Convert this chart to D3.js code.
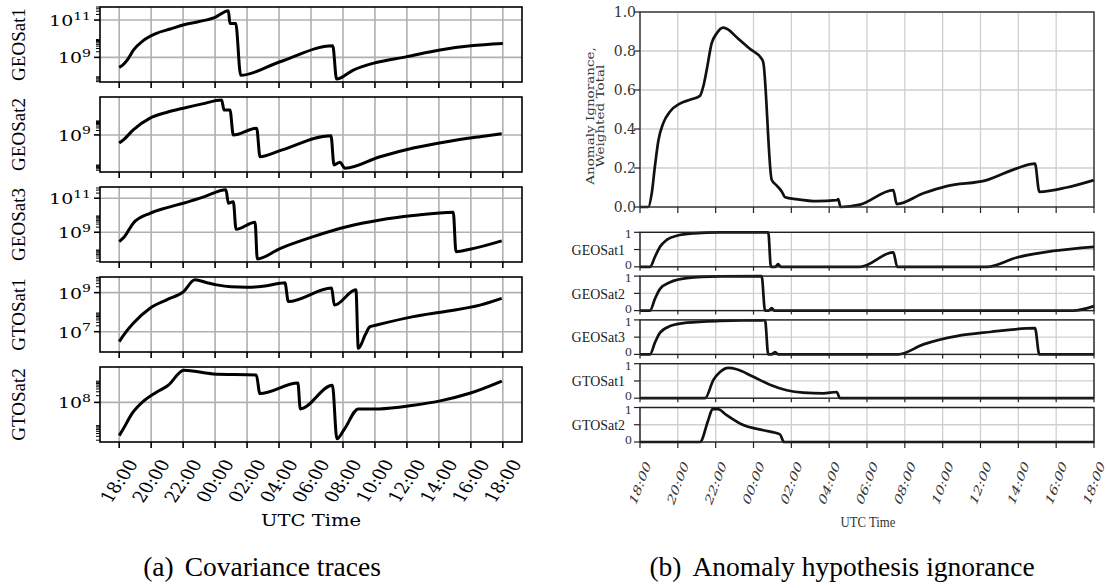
<!DOCTYPE html>
<html><head><meta charset="utf-8">
<script src="https://cdn.jsdelivr.net/npm/d3@7"></script>
<style>body{margin:0;background:#fff}svg{display:block}</style>
</head><body>
<svg id="c" width="1107" height="588"></svg>
<script>
// ---------- DATA ----------
const timeLabels = ["18:00","20:00","22:00","00:00","02:00","04:00","06:00","08:00","10:00","12:00","14:00","16:00","18:00"];
const satNames = ["GEOSat1","GEOSat2","GEOSat3","GTOSat1","GTOSat2"];

// (a) covariance traces: hours after 18:00 UTC, covariance trace
const geo1CovHours = [0,0.2,0.5,0.9,1.5,2.3,3.2,4,5,6,6.83,6.93,7.29,7.6,10.06,13.36,13.6,14.65,15.88,18,20.07,22,24];
const geo1Cov = [2.9e8,3.7e8,7.1e8,2.5e9,7.9e9,1.9e10,3.3e10,5.4e10,8.3e10,1.4e11,3.2e11,6.6e10,6.6e10,1.1e8,5.8e8,4.2e9,6.9e7,2.1e8,4.8e8,1.1e9,2.5e9,4.2e9,5.6e9];
const geo2CovHours = [0,0.3,0.88,1.93,3,4.01,5.2,6.41,6.56,6.93,7.14,8.6,8.81,10.06,13.25,13.44,13.81,14.13,16.32,18.4,20.49,22.57,23.93];
const geo2Cov = [2.8e8,5.0e8,2.2e9,1.4e10,3.5e10,6.6e10,1.3e11,2.4e11,5.0e10,5.0e10,1.0e9,2.9e9,3.3e7,8.5e7,8.9e8,9.1e6,1.4e7,5.4e6,3.3e7,1.3e8,3.5e8,7.6e8,1.2e9];
const geo3CovHours = [0,0.3,0.88,1.93,3,4.01,5.3,6.68,6.83,7.14,7.31,8.5,8.64,10.06,12.14,14.23,16.32,18.4,20.9,21.07,21.95,23.93];
const geo3Cov = [2.8e8,5.0e8,3.4e9,1.3e10,2.8e10,5.1e10,1.2e11,3.1e11,5.1e10,6.3e10,1.5e9,3.9e9,2.7e7,1.1e8,5.5e8,2.1e9,5.2e9,9.5e9,1.5e10,7.2e7,1.0e8,3.1e8];
const gto1CovHours = [0,0.3,0.88,1.93,2.97,4.01,4.74,5.5,6.1,7,7.98,9,10.06,10.37,10.58,13.29,13.46,14.81,14.96,15.4,15.69,16.11,18.4,20.49,22.57,23.93];
const gto1Cov = [3.1e6,7.1e6,2.7e7,1.6e8,4.3e8,1.1e9,4.5e9,3.2e9,2.5e9,2.0e9,1.9e9,2.1e9,3.0e9,3.2e9,3.5e8,1.7e9,2.3e8,1.4e9,1.4e6,7.1e6,1.8e7,2.2e7,5.9e7,1.1e8,2.3e8,5.1e8];
const gto2CovHours = [0,0.26,0.8,1.56,2.3,3.07,4.04,5.88,8.58,8.8,11.18,11.33,13.34,13.62,14.1,14.96,16.26,18.42,20.15,21.88,23.94];
const gto2Cov = [3.2e6,6.5e6,3.1e7,1.2e8,2.8e8,5.9e8,2.8e9,1.9e9,1.7e9,2.5e8,7.4e8,5.1e7,5.9e8,2.3e6,6.5e6,5.1e7,5.1e7,7.4e7,1.2e8,2.5e8,9.1e8];

// log10 axis limits and tick decades of each covariance panel
const covLimitsLog = [[7.68,11.70],[6.48,11.58],[7.25,11.66],[5.96,9.80],[6.22,9.59]];
const covMajorDecades = [[9,11],[9],[9,11],[7,9],[8]];
const covMinorDecades = [[7,9,11],[6,9],[7,9,11],[5,7,9],[6,8]];

// (b) anomaly ignorance
const totalHours = [0,0.44,0.62,0.79,0.97,1.23,1.59,2.11,2.64,3.17,3.35,3.52,3.79,4.05,4.4,4.67,5.11,5.82,6.43,6.52,6.96,7.23,7.49,7.67,8.28,9.34,10.4,10.48,10.6,11.63,13.39,13.57,14.98,16.22,18.33,19.92,20.88,21.11,22.55,24];
const totalIgnorance = [0,0,0.07,0.21,0.34,0.43,0.49,0.53,0.55,0.57,0.62,0.70,0.84,0.89,0.92,0.91,0.87,0.81,0.76,0.74,0.14,0.11,0.08,0.05,0.04,0.03,0.035,0.04,0,0.012,0.087,0.015,0.07,0.107,0.138,0.198,0.222,0.078,0.10,0.138];
const totalTicks = ["0.0","0.2","0.4","0.6","0.8","1.0"];

const geo1IgnHours = [0,0.53,0.79,1.06,1.41,1.94,2.82,4.23,6.78,6.92,7.15,7.3,7.45,11.63,13.39,13.6,18.33,19.92,21.85,24];
const geo1Ign = [0,0,0.29,0.58,0.78,0.90,0.97,1.0,1.0,0,0,0.08,0,0,0.42,0,0,0.27,0.46,0.58];
const geo2IgnHours = [0,0.53,0.79,1.06,1.59,2.47,4.23,6.43,6.61,6.8,6.96,7.1,22.9,24];
const geo2Ign = [0,0,0.34,0.63,0.82,0.94,0.99,1.0,0,0,0.07,0,0,0.13];
const geo3IgnHours = [0,0.53,0.79,1.06,1.59,2.47,4.23,6.61,6.78,6.95,7.14,7.3,13.65,14.98,16.74,18.5,20.88,21.11,24];
const geo3Ign = [0,0,0.34,0.63,0.82,0.92,0.97,0.99,0,0,0.07,0,0,0.29,0.53,0.65,0.76,0,0];
const gto1IgnHours = [0,3.44,3.88,4.23,4.67,5.11,5.99,6.87,7.75,8.63,9.69,10.4,10.57,24];
const gto1Ign = [0,0,0.53,0.76,0.88,0.84,0.62,0.39,0.23,0.16,0.14,0.18,0,0];
const gto2IgnHours = [0,3.17,3.61,3.84,4.14,4.58,5.46,6.52,7.4,7.61,24];
const gto2Ign = [0,0,0.64,0.96,0.95,0.78,0.49,0.34,0.22,0,0];
const smallTicks = [0,0.5,1];
const smallTickLabels = ["0","1"];

// ---------- DRAW ----------
const svg = d3.select("#c");
const tickHours = timeLabels.map((d,i)=>i*2);
const covSeries = [[geo1CovHours,geo1Cov],[geo2CovHours,geo2Cov],[geo3CovHours,geo3Cov],[gto1CovHours,gto1Cov],[gto2CovHours,gto2Cov]];
const ignSeries = [[geo1IgnHours,geo1Ign],[geo2IgnHours,geo2Ign],[geo3IgnHours,geo3Ign],[gto1IgnHours,gto1Ign],[gto2IgnHours,gto2Ign]];

// ---- (a) left ----
const xL = d3.scaleLinear().domain([-1.2,25.2]).range([100,522]);
const lp = {top:7, h:75, step:90};
const leftG = svg.append("g");
covSeries.forEach(([hrs,vals],i)=>{
  const top = lp.top + i*lp.step, bot = top + lp.h;
  const y = d3.scaleLog().domain(covLimitsLog[i].map(v=>Math.pow(10,v))).range([bot,top]);
  const g = leftG.append("g");
  g.selectAll(".gx").data(tickHours).join("line")
    .attr("x1",d=>xL(d)).attr("x2",d=>xL(d)).attr("y1",top).attr("y2",bot)
    .attr("stroke","#b0b0b0").attr("stroke-width",1.6);
  const majors = covMajorDecades[i].map(d=>Math.pow(10,d));
  g.selectAll(".gy").data(majors).join("line")
    .attr("x1",100).attr("x2",522).attr("y1",d=>y(d)).attr("y2",d=>y(d))
    .attr("stroke","#b0b0b0").attr("stroke-width",1.6);
  const pts = hrs.map((h,k)=>[h,vals[k]]);
  g.append("path").datum(pts)
    .attr("d",d3.line().x(d=>xL(d[0])).y(d=>y(d[1])).curve(d3.curveMonotoneX))
    .attr("fill","none").attr("stroke","#000").attr("stroke-width",3).attr("stroke-linejoin","round");
  g.append("rect").attr("x",100).attr("y",top).attr("width",422).attr("height",lp.h)
    .attr("fill","none").attr("stroke","#000").attr("stroke-width",1.6);
  g.selectAll(".tx").data(tickHours).join("line")
    .attr("x1",d=>xL(d)).attr("x2",d=>xL(d)).attr("y1",bot).attr("y2",bot+6)
    .attr("stroke","#000").attr("stroke-width",1.6);
  const minors = [];
  covMinorDecades[i].forEach(dec=>{ for(let k=2;k<10;k++){ const v=k*Math.pow(10,dec); const lv=Math.log10(v); if(lv>=covLimitsLog[i][0]&&lv<=covLimitsLog[i][1]) minors.push(v);} });
  g.selectAll(".mn").data(minors).join("line")
    .attr("x1",96).attr("x2",100).attr("y1",d=>y(d)).attr("y2",d=>y(d))
    .attr("stroke","#000").attr("stroke-width",1);
  g.selectAll(".mj").data(covMajorDecades[i]).join("line")
    .attr("x1",94).attr("x2",100).attr("y1",d=>y(Math.pow(10,d))).attr("y2",d=>y(Math.pow(10,d)))
    .attr("stroke","#000").attr("stroke-width",1.6);
  covMajorDecades[i].forEach(d=>{
    const t = g.append("text").attr("transform",`translate(91,${y(Math.pow(10,d))+6}) scale(1.22,1)`)
      .attr("text-anchor","end").attr("font-family","DejaVu Serif").attr("font-size",15.5).attr("fill","#000");
    t.append("tspan").text("10");
    t.append("tspan").attr("dy",-6.5).attr("font-size",11.5).text(String(d));
  });
  g.append("text").attr("transform",`translate(25,${(top+bot)/2}) rotate(-90)`)
    .attr("text-anchor","middle").attr("font-family","Liberation Serif").attr("font-size",19)
    .attr("fill","#000").text(satNames[i]);
});
leftG.selectAll(".xl").data(timeLabels).join("text")
  .attr("transform",(d,i)=>`translate(${xL(tickHours[i])},481) scale(1.2,1) rotate(-60)`)
  .attr("text-anchor","middle").attr("dominant-baseline","central")
  .attr("font-family","DejaVu Serif").attr("font-size",16).attr("fill","#000").text(d=>d);
leftG.append("text").attr("transform","translate(311,526) scale(1.15,1)").attr("text-anchor","middle")
  .attr("font-family","DejaVu Serif").attr("font-size",17).attr("fill","#000").text("UTC Time");

// ---- (b) right ----
const xR = d3.scaleLinear().domain([0,24]).range([640,1094]);
const rightG = svg.append("g");
const yT = d3.scaleLinear().domain([0,1]).range([207,12]);
const tickVals = totalTicks.map(Number);
rightG.selectAll(".gx").data(tickHours).join("line")
  .attr("x1",d=>xR(d)).attr("x2",d=>xR(d)).attr("y1",12).attr("y2",207)
  .attr("stroke","#cfcfcf").attr("stroke-width",1.3);
rightG.selectAll(".gy").data(tickVals).join("line")
  .attr("x1",640).attr("x2",1094).attr("y1",d=>yT(d)).attr("y2",d=>yT(d))
  .attr("stroke","#cfcfcf").attr("stroke-width",1.3);
rightG.append("path").datum(totalHours.map((h,k)=>[h,totalIgnorance[k]]))
  .attr("d",d3.line().x(d=>xR(d[0])).y(d=>yT(d[1])).curve(d3.curveMonotoneX))
  .attr("fill","none").attr("stroke","#111").attr("stroke-width",2.7).attr("stroke-linejoin","round");
rightG.append("rect").attr("x",640).attr("y",12).attr("width",454).attr("height",195)
  .attr("fill","none").attr("stroke","#333").attr("stroke-width",1.4);
rightG.selectAll(".ty").data(tickVals).join("line")
  .attr("x1",634).attr("x2",640).attr("y1",d=>yT(d)).attr("y2",d=>yT(d)).attr("stroke","#222").attr("stroke-width",1.2);
rightG.selectAll(".tyl").data(totalTicks).join("text")
  .attr("x",636).attr("y",(d,i)=>yT(tickVals[i])).attr("text-anchor","end").attr("dominant-baseline","central")
  .attr("font-family","DejaVu Serif").attr("font-size",14).attr("fill","#333").text(d=>d);
rightG.selectAll(".tx").data(tickHours).join("line")
  .attr("x1",d=>xR(d)).attr("x2",d=>xR(d)).attr("y1",207).attr("y2",213).attr("stroke","#222").attr("stroke-width",1.2);
const yl = rightG.append("text").attr("transform","translate(594,116) scale(0.8,1) rotate(-90)")
  .attr("text-anchor","middle").attr("font-family","DejaVu Serif").attr("font-size",13.5).attr("fill","#333");
yl.append("tspan").attr("x",0).attr("dy",0).text("Anomaly Ignorance,");
yl.append("tspan").attr("x",0).attr("dy",12).text("Weighted Total");

const sp = {top:232.3, h:34.5, step:43.8};
ignSeries.forEach(([hrs,vals],i)=>{
  const top = sp.top + i*sp.step, bot = top + sp.h;
  const y = d3.scaleLinear().domain([0,1]).range([bot,top]);
  const g = rightG.append("g");
  g.selectAll(".gx").data(tickHours).join("line")
    .attr("x1",d=>xR(d)).attr("x2",d=>xR(d)).attr("y1",top).attr("y2",bot)
    .attr("stroke","#cfcfcf").attr("stroke-width",1.3);
  g.selectAll(".gy").data(smallTicks).join("line")
    .attr("x1",640).attr("x2",1094).attr("y1",d=>y(d)).attr("y2",d=>y(d))
    .attr("stroke","#cfcfcf").attr("stroke-width",1.3);
  g.append("path").datum(hrs.map((h,k)=>[h,vals[k]]))
    .attr("d",d3.line().x(d=>xR(d[0])).y(d=>y(d[1])).curve(d3.curveMonotoneX))
    .attr("fill","none").attr("stroke","#111").attr("stroke-width",2.7).attr("stroke-linejoin","round");
  g.append("rect").attr("x",640).attr("y",top).attr("width",454).attr("height",sp.h)
    .attr("fill","none").attr("stroke","#222").attr("stroke-width",1.4);
  g.selectAll(".ty").data(smallTicks).join("line")
    .attr("x1",634).attr("x2",640).attr("y1",d=>y(d)).attr("y2",d=>y(d)).attr("stroke","#222").attr("stroke-width",1.2);
  // "0" nudged up and "1" nudged down slightly so neighbouring labels do not collide
  g.selectAll(".tyl").data(smallTickLabels).join("text")
    .attr("x",632).attr("y",d=>y(Number(d)) + (d==="1"?2:-2)).attr("text-anchor","end").attr("dominant-baseline","central")
    .attr("font-family","DejaVu Serif").attr("font-size",11.5).attr("fill","#333").text(d=>d);
  g.selectAll(".tx").data(tickHours).join("line")
    .attr("x1",d=>xR(d)).attr("x2",d=>xR(d)).attr("y1",bot).attr("y2",bot+(i===4?6:4)).attr("stroke","#222").attr("stroke-width",1.2);
  g.append("text").attr("transform",`translate(625,${(top+bot)/2}) scale(0.9,1)`)
    .attr("text-anchor","end").attr("dominant-baseline","central")
    .attr("font-family","Liberation Serif").attr("font-size",15.5).attr("fill","#222").text(satNames[i]);
});
rightG.selectAll(".xl").data(timeLabels).join("text")
  .attr("transform",(d,i)=>`translate(${xR(tickHours[i])},483) scale(0.65,1) rotate(-60)`)
  .attr("text-anchor","middle").attr("dominant-baseline","central")
  .attr("font-family","DejaVu Serif").attr("font-size",16.5).attr("fill","#333").text(d=>d);
rightG.append("text").attr("transform","translate(868,527) scale(0.85,1)").attr("text-anchor","middle")
  .attr("font-family","Liberation Serif").attr("font-size",15).attr("fill","#333").text("UTC Time");

// ---- captions ----
function caption(cx, tag, body){
  const t = svg.append("text").attr("x",cx).attr("y",576).attr("text-anchor","middle")
    .attr("font-family","Liberation Serif").attr("font-size",27.5).attr("fill","#000");
  t.append("tspan").text(tag);
  t.append("tspan").attr("dx",11).text(body);
}
caption(262,"(a)","Covariance traces");
caption(842,"(b)","Anomaly hypothesis ignorance");
</script>
</body></html>
